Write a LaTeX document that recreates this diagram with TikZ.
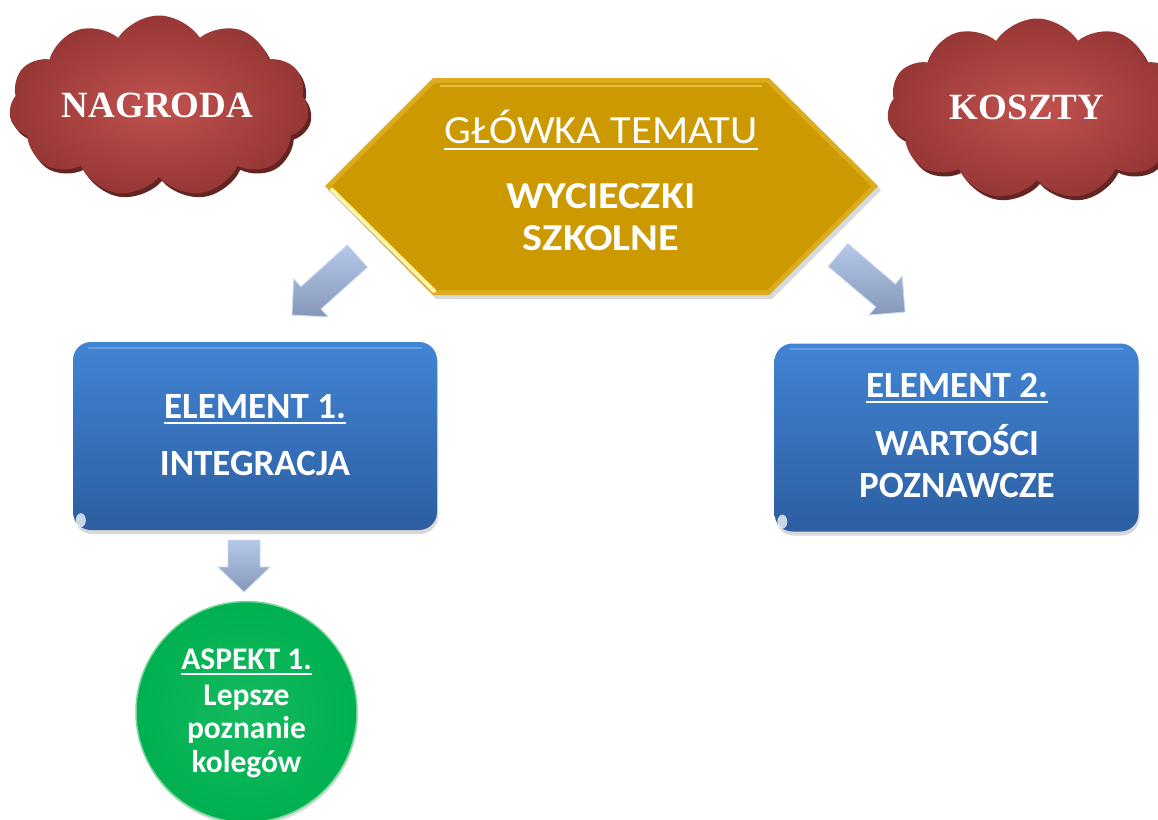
\documentclass[tikz,border=0pt]{standalone}
\usepackage{fontspec}
\setmainfont{Carlito}
\newfontfamily\serifcloud{Liberation Serif}
\usetikzlibrary{shapes.symbols,shadows}
\definecolor{cloudin}{RGB}{192,82,79}
\definecolor{cloudout}{RGB}{150,55,53}
\definecolor{cloudshadow}{RGB}{100,36,34}
\definecolor{gold}{RGB}{204,153,0}
\definecolor{goldlight}{RGB}{218,172,30}
\definecolor{goldline}{RGB}{240,205,90}
\definecolor{goldhl}{RGB}{255,245,170}
\definecolor{boxtop}{RGB}{66,132,212}
\definecolor{boxbot}{RGB}{44,94,160}
\definecolor{boxhl}{RGB}{120,170,230}
\definecolor{arrlight}{RGB}{182,200,232}
\definecolor{arrdark}{RGB}{133,152,186}
\definecolor{arredge}{RGB}{200,214,238}
\definecolor{aspgreen}{RGB}{0,176,80}
\definecolor{aspgreen2}{RGB}{20,186,95}
\definecolor{asprim}{RGB}{120,215,150}
\begin{document}
\begin{tikzpicture}[x=1pt,y=-1pt,
  cloudshape/.style={cloud, cloud puffs=11, cloud puff arc=115, aspect=1.64,
    minimum width=300, minimum height=181, inner sep=0pt},
  cloudtext/.style={text=white, inner sep=0pt, font=\serifcloud\bfseries\fontsize{37}{40}\selectfont},
  elbox/.style={rounded corners=18pt, minimum width=364, minimum height=188,
    top color=boxtop, bottom color=boxbot,
    drop shadow={opacity=0.3, shadow xshift=1pt, shadow yshift=-4pt}},
  blockarrow/.style={top color=arrlight, bottom color=arrdark, draw=arredge, line width=0.8pt, line join=miter},
  boldlbl/.style={text=white, inner sep=0pt, anchor=base,
    font=\bfseries\fontsize{37}{40}\selectfont},
  hexlbl/.style={text=white, inner sep=0pt, anchor=base,
    font=\bfseries\fontsize{38}{42}\selectfont\addfontfeatures{FakeStretch=1.11}},
  asplbl/.style={text=white, inner sep=0pt, anchor=base,
    font=\bfseries\fontsize{31.5}{34}\selectfont},
  uline/.style={white, line width=2.3pt}
]
\useasboundingbox[fill=white] (0,0) rectangle (1158,819);

% clouds
\node[cloudshape, fill=cloudshadow] at (162,110) {};
\node[cloudshape, inner color=cloudin, outer color=cloudout] (nagrodacloud) at (159,106) {};
\node[cloudtext] (nagroda) at (157.5,105) {NAGRODA};
\node[cloudshape, fill=cloudshadow] at (1040,113) {};
\node[cloudshape, inner color=cloudin, outer color=cloudout] (kosztycloud) at (1037,109) {};
\node[cloudtext] (koszty) at (1027,107) {KOSZTY};

% hexagon
\path[fill=black, opacity=0.15] (328,190) -- (436,82) -- (772,82) -- (881,190) -- (772,299) -- (436,299) -- cycle;
\path[fill=goldlight] (325,186) -- (433,78) -- (769,78) -- (878,186) -- (769,295) -- (433,295) -- cycle;
\path[fill=gold] (332,186) -- (435,83) -- (767,83) -- (871,186) -- (767,290) -- (437,290) -- cycle;
\draw[goldline, line width=1.5pt, opacity=0.8] (440,86) -- (762,86);
\draw[goldhl, line width=4pt, line cap=round] (332,190) -- (434,291);
\node[inner sep=0pt] (glowka) at (601.5,186.5) {};
\node[text=white, inner sep=0pt, anchor=base,
  font=\fontsize{40}{44}\selectfont\addfontfeatures{FakeStretch=1.06}] (g1) at (601,143) {GŁÓWKA TEMATU};
\draw[white, line width=2pt] ([yshift=-6pt]g1.base west) -- ([yshift=-6pt]g1.base east);
\node[hexlbl] (g2) at (601,208) {WYCIECZKI};
\node[hexlbl] (g3) at (601,250) {SZKOLNE};

% block arrows
\path[blockarrow] (347.4,245.0) -- (300.9,286.8) -- (293.8,279.0) -- (292,315)
  -- (328.0,316.8) -- (320.9,309.0) -- (367.4,267.2) -- cycle;
\path[blockarrow] (847.7,243.6) -- (895.3,284.1) -- (902.1,276.1) -- (905,312)
  -- (869.1,314.9) -- (875.9,306.9) -- (828.3,266.4) -- cycle;
\path[blockarrow] (228,540) -- (260,540) -- (260,567) -- (270,567) -- (244,592)
  -- (218,567) -- (228,567) -- cycle;

% element boxes
\node[elbox] (el1) at (255,436) {};
\node[elbox] (el2) at (956.5,437.5) {};
\draw[boxhl, line width=2pt, opacity=0.7, line cap=round] ([xshift=16pt,yshift=-6pt]el1.north west) -- ([xshift=-16pt,yshift=-6pt]el1.north east);
\draw[boxhl, line width=2pt, opacity=0.7, line cap=round] ([xshift=16pt,yshift=-6pt]el2.north west) -- ([xshift=-16pt,yshift=-6pt]el2.north east);
\fill[white, opacity=0.75] ([xshift=8pt,yshift=10pt]el1.south west) ellipse (5 and 7);
\fill[white, opacity=0.75] ([xshift=8pt,yshift=10pt]el2.south west) ellipse (5 and 7);

\node[boldlbl] (e1a) at (255,418) {ELEMENT 1.};
\draw[uline] ([yshift=-5pt]e1a.base west) -- ([yshift=-5pt]e1a.base east);
\node[boldlbl] (e1b) at (255,475) {INTEGRACJA};

\node[boldlbl] (e2a) at (957,397) {ELEMENT 2.};
\draw[uline] ([yshift=-5pt]e2a.base west) -- ([yshift=-5pt]e2a.base east);
\node[boldlbl] (e2b) at (957,455) {WARTOŚCI};
\node[boldlbl] (e2c) at (957,497) {POZNAWCZE};

% aspect circle
\node[circle, minimum size=221, inner sep=0pt, inner color=aspgreen2, outer color=aspgreen,
  draw=asprim, line width=1.5pt,
  drop shadow={opacity=0.25, shadow xshift=1pt, shadow yshift=-3pt}] (asp) at (246.5,712) {};
\node[asplbl] (a1) at (246.5,669) {ASPEKT 1.};
\draw[white, line width=2pt] ([yshift=-5pt]a1.base west) -- ([yshift=-5pt]a1.base east);
\node[asplbl] (a2) at (246.5,705) {Lepsze};
\node[asplbl] (a3) at (246.5,738) {poznanie};
\node[asplbl] (a4) at (246.5,772) {kolegów};
\end{tikzpicture}
\end{document}
